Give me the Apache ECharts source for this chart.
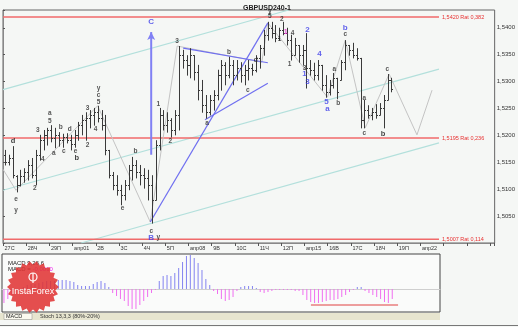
<!DOCTYPE html>
<html><head><meta charset="utf-8">
<script src="https://cdn.jsdelivr.net/npm/echarts@6/dist/echarts.min.js"></script>
<style>html,body{margin:0;padding:0;background:#f5f7f5}#c{width:518px;height:327px}</style>
</head><body><div id="c"></div>
<script>
// ---- Day tick labels (one per trading day) ----
const dayLabels = ['27С','28Ч','29П','апр01','2В','3С','4Ч','5П','апр08','9В','10С','11Ч','12П','апр15','16В','17С','18Ч','19П','апр22'];

// ---- H4 bars (6 per day), prices ----
const barOpen  = [1.5164,1.5151,1.5158,1.5125,1.5108,1.5125,1.5132,1.5145,1.5126,1.5164,1.5191,1.5201,1.5210,1.5195,1.5201,1.5191,1.5197,1.5191,1.5184,1.5201,1.5219,1.5229,1.5232,1.5238,1.5243,1.5232,1.5219,1.5173,1.5126,1.5108,1.5099,1.5089,1.5108,1.5136,1.5145,1.5132,1.5126,1.5121,1.5108,1.5080,1.5182,1.5238,1.5219,1.5229,1.5210,1.5238,1.5349,1.5340,1.5331,1.5349,1.5318,1.5284,1.5256,1.5243,1.5266,1.5275,1.5312,1.5331,1.5312,1.5331,1.5312,1.5325,1.5312,1.5322,1.5325,1.5322,1.5344,1.5362,1.5387,1.5400,1.5390,1.5381,1.5396,1.5390,1.5377,1.5349,1.5368,1.5349,1.5359,1.5325,1.5322,1.5312,1.5331,1.5294,1.5281,1.5294,1.5307,1.5303,1.5336,1.5368,1.5359,1.5349,1.5344,1.5229,1.5247,1.5238,1.5243,1.5238,1.5251,1.5266,1.5303];
const barHigh  = [1.5173,1.5164,1.5180,1.5126,1.5136,1.5139,1.5154,1.5158,1.5173,1.5201,1.5210,1.5214,1.5219,1.5214,1.5206,1.5203,1.5204,1.5201,1.5210,1.5225,1.5238,1.5243,1.5247,1.5251,1.5255,1.5247,1.5238,1.5173,1.5132,1.5126,1.5108,1.5117,1.5145,1.5160,1.5154,1.5145,1.5139,1.5136,1.5126,1.5191,1.5251,1.5247,1.5243,1.5232,1.5247,1.5366,1.5359,1.5349,1.5362,1.5349,1.5331,1.5303,1.5275,1.5275,1.5284,1.5322,1.5340,1.5336,1.5346,1.5340,1.5340,1.5336,1.5331,1.5340,1.5333,1.5349,1.5368,1.5396,1.5411,1.5411,1.5405,1.5400,1.5411,1.5400,1.5387,1.5381,1.5368,1.5368,1.5390,1.5340,1.5335,1.5340,1.5331,1.5312,1.5303,1.5316,1.5307,1.5340,1.5377,1.5368,1.5372,1.5362,1.5344,1.5266,1.5256,1.5251,1.5258,1.5260,1.5275,1.5314,1.5307];
const barLow   = [1.5145,1.5145,1.5121,1.5095,1.5106,1.5113,1.5117,1.5121,1.5108,1.5154,1.5173,1.5182,1.5188,1.5177,1.5180,1.5178,1.5186,1.5173,1.5178,1.5191,1.5201,1.5191,1.5214,1.5219,1.5225,1.5210,1.5164,1.5121,1.5099,1.5089,1.5071,1.5080,1.5099,1.5117,1.5121,1.5108,1.5102,1.5080,1.5037,1.5080,1.5173,1.5210,1.5206,1.5197,1.5201,1.5210,1.5325,1.5312,1.5307,1.5303,1.5266,1.5243,1.5232,1.5238,1.5247,1.5266,1.5284,1.5294,1.5307,1.5294,1.5303,1.5299,1.5294,1.5303,1.5312,1.5318,1.5325,1.5349,1.5377,1.5381,1.5374,1.5377,1.5387,1.5368,1.5340,1.5349,1.5336,1.5331,1.5288,1.5312,1.5303,1.5303,1.5284,1.5271,1.5275,1.5288,1.5268,1.5303,1.5322,1.5349,1.5344,1.5340,1.5214,1.5214,1.5232,1.5229,1.5232,1.5238,1.5214,1.5266,1.5281];
const barClose = [1.5151,1.5158,1.5126,1.5108,1.5125,1.5132,1.5145,1.5126,1.5164,1.5191,1.5201,1.5210,1.5195,1.5201,1.5191,1.5197,1.5191,1.5184,1.5201,1.5219,1.5229,1.5232,1.5238,1.5243,1.5232,1.5219,1.5173,1.5126,1.5108,1.5099,1.5089,1.5108,1.5136,1.5145,1.5132,1.5126,1.5121,1.5108,1.5080,1.5182,1.5238,1.5219,1.5229,1.5210,1.5238,1.5349,1.5340,1.5331,1.5349,1.5318,1.5284,1.5256,1.5243,1.5266,1.5275,1.5312,1.5331,1.5312,1.5331,1.5312,1.5325,1.5312,1.5322,1.5325,1.5322,1.5344,1.5362,1.5387,1.5400,1.5390,1.5381,1.5396,1.5390,1.5377,1.5349,1.5368,1.5349,1.5359,1.5325,1.5322,1.5312,1.5331,1.5294,1.5281,1.5294,1.5307,1.5281,1.5336,1.5368,1.5359,1.5349,1.5344,1.5229,1.5247,1.5238,1.5243,1.5238,1.5251,1.5266,1.5303,1.5286];

// ---- MACD histogram (units of 0.0001) ----
const macdHist = [-14,-10,-6,-3,-1,2,4,5,5,6,7,8,8,8,9,9,9,8,7,4,3,3,3,5,7,8,6,2,-4,-7,-10,-12,-17,-20,-20,-16,-12,-8,-4,-1,8,13,14,13,16,21,27,33,34,31,26,19,10,4,-2,-5,-10,-12,-11,-8,-2,2,3,3,3,1,-3,-4,-3,-2,-1,-1,-1,-1,-1,-2,-2,-6,-11,-13,-14,-14,-13,-12,-11,-11,-10,-8,-6,-3,-1,2,2,-2,-4,-6,-8,-10,-13,-14,-10];
const macdRedLine = [[13.26,-16],[17.0,-16]];

// ---- Levels ----
const levelPrices = [1.5420, 1.5195, 1.5007];
const levelTexts  = ['1,5420 Rat 0,382', '1,5195 Rat 0,236', '1,5007 Rat 0,114'];
const levelEndDay = 18.8;
const lastPrice = 1.5286;

// ---- Drawn lines (day, price) ----
const tealLines = [
  [[0,1.5285],[12.32,1.5433]],
  [[0,1.5098],[18.80,1.5323]],
  [[3.37,1.5000],[18.80,1.5186]]
];
const blueLines = [
  [[6.35,1.5039],[11.42,1.5409]],
  [[7.77,1.5362],[11.42,1.5335]],
  [[8.71,1.5229],[11.42,1.5297]]
];
const blueArrow = [[6.39,1.5164],[6.39,1.5392]];
const wavePath = [[0,1.5137],[0.56,1.5098],[4.08,1.5255],[6.35,1.5039],[7.51,1.5366],[11.16,1.5336],[11.42,1.5409],[13.99,1.5271],[14.76,1.5377],[15.62,1.5214],[16.65,1.5314],[17.85,1.5201],[18.50,1.5284]];

// ---- Wave labels (day, price, text) ----
const blackLabels = [
  [7.51,1.5375,'3'],[9.74,1.5355,'b'],[10.90,1.5340,'d'],[10.56,1.5284,'c'],[6.70,1.5258,'1'],[8.80,1.5223,'a'],
  [4.12,1.5288,'y'],[4.12,1.5275,'c'],[4.12,1.5262,'5'],
  [2.02,1.5242,'a'],[2.02,1.5227,'5'],[3.65,1.5251,'3'],
  [2.49,1.5216,'b'],[2.88,1.5212,'d'],[1.50,1.5210,'3'],[1.72,1.5156,'4'],[1.37,1.5102,'2'],
  [2.19,1.5167,'a'],[2.62,1.5171,'c'],[3.13,1.5171,'e'],[3.65,1.5182,'2'],[3.99,1.5212,'4'],
  [0.56,1.5082,'e'],[0.56,1.5061,'y'],[5.71,1.5171,'b'],[5.15,1.5065,'e'],[7.21,1.5190,'2'],[6.39,1.5022,'c'],[6.70,1.5011,'y'],
  [11.50,1.5431,'y'],[11.50,1.5422,'5'],[12.02,1.5416,'2'],[11.93,1.5379,'1'],[12.49,1.5390,'4'],[12.36,1.5333,'1'],[13.0,1.5325,'3'],
  [14.76,1.5388,'c'],[14.29,1.5323,'a'],[14.46,1.5260,'b'],[15.58,1.5269,'a'],[16.57,1.5323,'c'],[15.58,1.5204,'c']
];
const boldLabels = [[0.43,1.5190,'d'],[3.18,1.5158,'b'],[16.39,1.5203,'b']];
const blueLabels = [[6.39,1.5411,'C'],[13.13,1.5396,'2'],[13.65,1.5351,'4'],[13.0,1.5314,'1'],[13.13,1.5299,'3'],[14.76,1.5400,'b'],[13.95,1.5262,'5'],[13.99,1.5249,'a'],[6.39,1.5009,'B']];
const pinkLabels = [[12.19,1.5392,'1']];

// ---------------------------------------------------------------
const barX = k => Math.floor(k/6) + (k%6 + 0.5)/6;
const ohlc = barOpen.map((o,k)=>[barX(k), o, barHigh[k], barLow[k], barClose[k]]);
const macdData = macdHist.map((v,k)=>[barX(k), v]);
const FONT = 'Liberation Sans, Arial, sans-serif';

function labelSeries(arr, color, size, weight){
  return {type:'scatter', xAxisIndex:0, yAxisIndex:0, symbolSize:0.1, silent:true, z:6,
    itemStyle:{color:'transparent'},
    data: arr.map(a=>[a[0],a[1],a[2]]),
    label:{show:true, position:'inside', formatter:p=>p.data[2], color, fontSize:size, fontWeight:weight, fontFamily:FONT}};
}
function segSeries(seg, color, width, z){
  return {type:'line', xAxisIndex:0, yAxisIndex:0, data:seg, symbol:'none', silent:true, z:z||3,
    lineStyle:{color, width}};
}

const series = [];
tealLines.forEach(s=>series.push(segSeries(s,'#b3e0dc',1.2,2)));
series.push(Object.assign(segSeries(wavePath,'#c4c4c4',1,3),{
  markLine:{silent:true, symbol:'none', lineStyle:{opacity:0},
    label:{show:true, position:'end', distance:1, formatter:lastPrice.toFixed(4).replace('.',','), backgroundColor:'#ffff00', color:'#000', fontSize:6, fontFamily:FONT, padding:[1,1,0,1]},
    data:[{yAxis:lastPrice}]}
}));
levelPrices.forEach((lv,i)=>{
  series.push({type:'line', xAxisIndex:0, yAxisIndex:0, data:[[0,lv],[levelEndDay,lv]], symbol:'none', silent:true, z:2,
    lineStyle:{color:'#f06a6a', width:1.5},
    endLabel:{show:true, formatter:levelTexts[i], color:'#e83030', fontSize:5.5, fontFamily:FONT, distance:3}});
});
blueLines.forEach(s=>series.push(segSeries(s,'#6f6ff0',1.2,4)));
series.push({type:'line', xAxisIndex:0, yAxisIndex:0, data:blueArrow, silent:true, z:4,
  symbol:(v,p)=>p.dataIndex===1?'arrow':'none', symbolSize:[6,8], showSymbol:true, showAllSymbol:true,
  itemStyle:{color:'#8080f4'}, lineStyle:{color:'#8080f4', width:2}});
series.push({type:'custom', xAxisIndex:0, yAxisIndex:0, data:ohlc, z:5, silent:true,
  renderItem:(params, api)=>{
    const x=api.value(0), o=api.value(1), h=api.value(2), l=api.value(3), c=api.value(4);
    const pH=api.coord([x,h]), pL=api.coord([x,l]), pO=api.coord([x,o]), pC=api.coord([x,c]);
    const xx=Math.round(pH[0])+0.5;
    const st={stroke:'#3a3a3a', lineWidth:1};
    return {type:'group', children:[
      {type:'line', shape:{x1:xx,y1:pH[1],x2:xx,y2:pL[1]+0.5}, style:st},
      {type:'line', shape:{x1:xx-1.5,y1:Math.round(pO[1])+0.5,x2:xx,y2:Math.round(pO[1])+0.5}, style:st},
      {type:'line', shape:{x1:xx,y1:Math.round(pC[1])+0.5,x2:xx+1.5,y2:Math.round(pC[1])+0.5}, style:st}
    ]};
  }});
series.push(labelSeries(blackLabels,'#2a2a2a',6.5,'bold'));
series.push(labelSeries(boldLabels,'#111',7.5,'bold'));
series.push(labelSeries(blueLabels,'#3b3be8',8,'bold'));
series.push(labelSeries(pinkLabels,'#e020c8',7,'bold'));
// MACD
series.push({type:'bar', xAxisIndex:1, yAxisIndex:1, data:macdData, barWidth:1, silent:true,
  itemStyle:{color:p=>p.data[1]>=0?'#8383f0':'#f06ef0'}});
series.push({type:'line', xAxisIndex:1, yAxisIndex:1, data:macdRedLine, symbol:'none', silent:true, lineStyle:{color:'#e04040', width:1}});

// decorative logo polygon
const gear=[]; for(let i=0;i<44;i++){const a=i*Math.PI/22, r=(i%2)?22.5:26; gear.push([33+r*Math.cos(a), 287+r*Math.sin(a)]);}

const option = {
  animation:false,
  backgroundColor:'#f5f7f5',
  title:[
    {text:'GBPUSD240-1', left:238, top:0, textStyle:{fontSize:7, fontWeight:'bold', color:'#222', fontFamily:FONT}},
    {text:'MACD 9,26,6', left:3, top:255, textStyle:{fontSize:6, fontWeight:'normal', color:'#222', fontFamily:FONT}},
    {text:'MACD = {p|-0,0010}', left:3, top:261, textStyle:{fontSize:6, fontWeight:'normal', color:'#222', fontFamily:FONT, rich:{p:{color:'#ee22ee', fontSize:6}}}}
  ],
  grid:[
    {left:2, right:22, top:10, bottom:84, show:true, borderColor:'#666', borderWidth:1, backgroundColor:'transparent'},
    {left:2, right:78, top:254, bottom:15, show:true, borderColor:'#444', borderWidth:1, backgroundColor:'#fafbfa'}
  ],
  xAxis:[
    {type:'value', gridIndex:0, min:0, max:21.2, interval:1,
      axisLine:{show:true, lineStyle:{color:'#888'}}, axisTick:{show:true, length:3, lineStyle:{color:'#555'}},
      axisLabel:{show:true, align:'left', margin:2, fontSize:5.5, color:'#333', fontFamily:FONT,
        formatter:v=>{const i=Math.round(v); return Math.abs(v-i)<1e-6 && dayLabels[i]!==undefined ? ' '+dayLabels[i] : '';}},
      splitLine:{show:false}},
    {type:'value', gridIndex:1, min:0, max:18.8, axisLine:{show:true, onZero:true, lineStyle:{color:'#cfcfcf'}},
      axisTick:{show:false}, axisLabel:{show:false}, splitLine:{show:false}}
  ],
  yAxis:[
    {type:'value', gridIndex:0, position:'right', min:1.5, max:1.5433, interval:0.005,
      axisLine:{show:true, lineStyle:{color:'#888'}}, axisTick:{show:true, length:2, lineStyle:{color:'#555'}},
      axisLabel:{show:true, margin:2, fontSize:6, color:'#333', fontFamily:FONT,
        formatter:v=>{const q=v*200; if(Math.abs(q-Math.round(q))>1e-6) return ''; if(v<1.5049||v>1.5401) return ''; return v.toFixed(4).replace('.',',');}},
      splitLine:{show:false}},
    {type:'value', gridIndex:1, min:-23, max:35, show:false, splitLine:{show:false}}
  ],
  graphic:[
    {type:'rect', shape:{x:0,y:313,width:440,height:7}, style:{fill:'#e7e5cf'}, silent:true},
    {type:'rect', shape:{x:4,y:313.5,width:28,height:6}, style:{fill:'#fbfaf0', stroke:'#888', lineWidth:0.5}, silent:true},
    {type:'text', x:6, y:313.5, style:{text:'MACD', fontSize:5.5, fill:'#222', fontFamily:FONT}, silent:true},
    {type:'text', x:40, y:313.5, style:{text:'Stoch 13,3,3 (80%-20%)', fontSize:5.5, fill:'#333', fontFamily:FONT}, silent:true},
    {type:'line', shape:{x1:0,y1:325.5,x2:518,y2:325.5}, style:{stroke:'#777', lineWidth:1}, silent:true},
    {type:'polygon', shape:{points:gear}, style:{fill:'#e03535', opacity:0.88}, silent:true, z:20},
    {type:'circle', shape:{cx:33, cy:277, r:4}, style:{fill:'none', stroke:'#fff', lineWidth:1.2}, silent:true, z:21},
    {type:'line', shape:{x1:33,y1:273,x2:33,y2:283}, style:{stroke:'#fff', lineWidth:1.2}, silent:true, z:21},
    {type:'text', x:33, y:287, style:{text:'InstaForex', fontSize:9, fill:'#fff', fontFamily:FONT, textAlign:'center'}, silent:true, z:21}
  ],
  series
};
echarts.init(document.getElementById('c'), null, {renderer:'canvas'}).setOption(option);
</script></body></html>
